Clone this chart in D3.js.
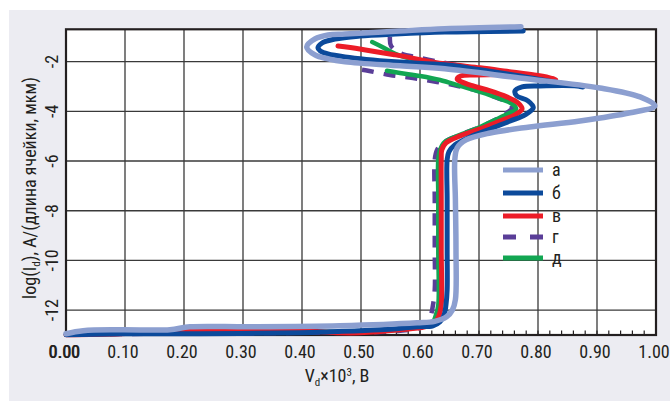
<!DOCTYPE html>
<html><head><meta charset="utf-8">
<script src="https://cdn.jsdelivr.net/npm/d3@7"></script>
<style>
body{margin:0;background:#fff;}
svg text{font-family:"Liberation Sans Narrow","Arial Narrow","Roboto Condensed",sans-serif;fill:#231f20;}
</style></head><body>
<svg id="c" width="670" height="401"></svg>
<script>
// ---- data ----
const xTickValues = [0,0.1,0.2,0.3,0.4,0.5,0.6,0.7,0.8,0.9,1.0];
const xTickLabels = ["0.00","0.10","0.20","0.30","0.40","0.50","0.60","0.70","0.80","0.90","1.00"];
const yTickValues = [-2,-4,-6,-8,-10,-12];
const yTickLabels = ["-2","-4","-6","-8","-10","-12"];
const seriesNames = ["а","б","в","г","д"];
const seriesColors = ["#8c9fd0","#0c4a9b","#ec1c27","#5a3e98","#12a652"];

// [V (x10^3 B), log(Id)] ; null = break
const seriesA = [[0,-12.95],[0.029,-12.83],[0.092,-12.79],[0.176,-12.79],[0.21,-12.67],[0.312,-12.67],[0.464,-12.63],[0.595,-12.51],[0.625,-12.45],[0.645,-12.27],[0.655,-11.99],[0.66,-11.58],[0.661,-9.57],[0.66,-7.56],[0.659,-5.95],[0.663,-5.47],[0.678,-5.15],[0.719,-4.87],[0.786,-4.63],[0.871,-4.39],[0.956,-4.06],[0.998,-3.78],[0.973,-3.42],[0.905,-3.06],[0.769,-2.66],[0.642,-2.29],[0.566,-2.17],[0.473,-2.01],[0.444,-1.89],[0.422,-1.73],[0.408,-1.41],[0.422,-1.09],[0.444,-0.93],[0.473,-0.89],[0.566,-0.77],[0.642,-0.68],[0.771,-0.60]];
const seriesB = [[0,-12.99],[0.092,-12.95],[0.227,-12.95],[0.397,-12.91],[0.447,-12.87],[0.532,-12.79],[0.595,-12.67],[0.622,-12.63],[0.634,-12.47],[0.641,-12.19],[0.644,-11.79],[0.646,-11.18],[0.646,-9.57],[0.646,-7.56],[0.646,-5.95],[0.649,-5.63],[0.659,-5.35],[0.685,-5.03],[0.719,-4.71],[0.753,-4.39],[0.778,-4.14],[0.792,-3.86],[0.783,-3.58],[0.764,-3.38],[0.761,-3.18],[0.773,-3.02],[0.803,-2.98],[0.866,-2.98],[0.876,-3.02],[0.837,-2.86],[0.769,-2.58],[0.702,-2.33],[0.642,-2.13],[0.558,-2.01],[0.473,-1.81],[0.444,-1.69],[0.431,-1.57],[0.427,-1.45],[0.434,-1.25],[0.456,-1.09],[0.498,-0.97],[0.558,-0.89],[0.642,-0.81],[0.775,-0.77]];
const seriesV = [[0,-12.99],[0.092,-12.95],[0.21,-12.83],[0.397,-12.83],[0.464,-12.91],[0.498,-12.91],[0.566,-12.79],[0.608,-12.67],[0.625,-12.51],[0.632,-12.23],[0.636,-11.79],[0.636,-9.57],[0.636,-7.56],[0.636,-5.95],[0.637,-5.55],[0.644,-5.27],[0.668,-4.99],[0.702,-4.71],[0.736,-4.39],[0.761,-4.14],[0.773,-3.90],[0.766,-3.66],[0.747,-3.42],[0.719,-3.18],[0.69,-2.98],[0.671,-2.82],[0.663,-2.70],[0.669,-2.58],[0.693,-2.54],[0.747,-2.52],[0.81,-2.64],[0.83,-2.70],[0.80,-2.56],[0.747,-2.39],[0.702,-2.25],[0.642,-2.09],[0.558,-1.73],[0.498,-1.49],[0.461,-1.37]];
const seriesG = [[0,-12.99],[0.142,-12.95],[0.397,-12.91],[0.566,-12.83],[0.608,-12.63],[0.617,-12.31],[0.622,-11.79],[0.625,-11.18],[0.625,-9.57],[0.625,-7.56],[0.625,-5.95],[0.629,-5.55],[0.639,-5.27],[0.668,-4.95],[0.702,-4.63],[0.727,-4.35],[0.744,-4.10],[0.756,-3.86],[0.749,-3.66],[0.731,-3.46],[0.698,-3.18],[0.664,-2.98],[0.629,-2.82],[0.588,-2.66],[0.549,-2.54],[0.512,-2.37],[0.49,-2.29],null,[0.549,-1.01],[0.551,-1.37],[0.566,-1.65],[0.60,-1.85],[0.651,-2.09],[0.719,-2.37]];
const seriesD = [[0,-12.99],[0.092,-12.95],[0.21,-12.87],[0.397,-12.87],[0.498,-12.87],[0.566,-12.79],[0.608,-12.63],[0.622,-12.47],[0.627,-12.19],[0.631,-11.79],[0.631,-9.57],[0.631,-7.56],[0.631,-5.95],[0.634,-5.55],[0.642,-5.23],[0.668,-4.95],[0.702,-4.63],[0.727,-4.35],[0.749,-4.10],[0.763,-3.90],[0.756,-3.70],[0.736,-3.50],[0.702,-3.22],[0.668,-2.98],[0.634,-2.74],[0.60,-2.58],[0.566,-2.46],[0.544,-2.37],null,[0.519,-1.21],[0.536,-1.41],[0.558,-1.69],[0.586,-1.89],[0.642,-2.13],[0.736,-2.45]];

// ---- drawing ----
const svg = d3.select("#c");
const W = 670, H = 401;
const L = 66, R = 656, T = 29.3, B = 335;
const x = d3.scaleLinear().domain([0,1]).range([L,R]);
const y = d3.scaleLinear().domain([-13,-0.7]).range([B,T]);

svg.append("rect").attr("width",W).attr("height",H).attr("fill","#fff");
svg.append("rect").attr("x",9).attr("y",10).attr("width",W-9).attr("height",H-10).attr("fill","#ececf2");
svg.append("rect").attr("x",L).attr("y",T).attr("width",R-L).attr("height",B-T).attr("fill","#fff");

// grid
const grid = svg.append("g").attr("stroke","#3a3a3a").attr("stroke-width",1.3);
grid.selectAll("line.v").data(xTickValues.slice(1,-1)).join("line")
  .attr("x1",d=>x(d)).attr("x2",d=>x(d)).attr("y1",T).attr("y2",B);
grid.selectAll("line.h").data(yTickValues).join("line")
  .attr("y1",d=>y(d)).attr("y2",d=>y(d)).attr("x1",L).attr("x2",R);

// bottom minor ticks
svg.append("g").attr("stroke","#231f20").attr("stroke-width",1.2)
  .selectAll("line").data(d3.range(0,1.0001,0.02)).join("line")
  .attr("x1",d=>x(d)).attr("x2",d=>x(d)).attr("y1",B).attr("y2",B-4.5);

// frame
svg.append("rect").attr("x",L).attr("y",T).attr("width",R-L).attr("height",B-T)
  .attr("fill","none").attr("stroke","#231f20").attr("stroke-width",2.2);

// x tick labels
svg.append("g").selectAll("text").data(xTickValues).join("text")
  .attr("x",d=>x(d)-2).attr("y",358).attr("text-anchor","middle")
  .attr("font-size",18).text((d,i)=>xTickLabels[i]);
svg.append("text").attr("x",x(0)-1.2).attr("y",358).attr("text-anchor","middle")
  .attr("font-size",18).text(xTickLabels[0]);

// y tick labels
svg.append("g").selectAll("text").data(yTickValues).join("text")
  .attr("transform",d=>`translate(58,${y(d)}) rotate(-90)`).attr("text-anchor","middle")
  .attr("font-size",18).text((d,i)=>yTickLabels[i]);

// axis titles
const xt = svg.append("text").attr("x",337).attr("y",382).attr("text-anchor","middle").attr("font-size",18);
xt.append("tspan").text("V");
xt.append("tspan").attr("font-size",11).attr("dy",4).text("d");
xt.append("tspan").attr("dy",-4).text("×10");
xt.append("tspan").attr("font-size",11).attr("dy",-6).text("3");
xt.append("tspan").attr("dy",6).text(", В");

const yt = svg.append("text").attr("transform","translate(36,188) rotate(-90)").attr("text-anchor","middle").attr("font-size",18);
yt.append("tspan").text("log(I");
yt.append("tspan").attr("font-size",11).attr("dy",4).text("d");
yt.append("tspan").attr("dy",-4).text("),  A/(длина ячейки, мкм)");

// curves
const line = d3.line().defined(d=>d!==null).x(d=>x(d[0])).y(d=>y(d[1])).curve(d3.curveCatmullRom.alpha(0.5));
const series = [
  {data:seriesG, i:3, w:4.5, dash:"12,10"},
  {data:seriesD, i:4, w:4.5},
  {data:seriesV, i:2, w:5},
  {data:seriesB, i:1, w:5},
  {data:seriesA, i:0, w:5.5}
];
series.forEach(s=>{
  svg.append("path").attr("d",line(s.data)).attr("fill","none")
    .attr("stroke",seriesColors[s.i]).attr("stroke-width",s.w)
    .attr("stroke-linejoin","round").attr("stroke-linecap", s.dash?"butt":"round")
    .attr("stroke-dasharray", s.dash||null);
});

// legend
const legY = [170,193,216,237,258];
const lg = svg.append("g");
seriesNames.forEach((n,i)=>{
  lg.append("line").attr("x1",503).attr("x2",543).attr("y1",legY[i]).attr("y2",legY[i])
    .attr("stroke",seriesColors[i]).attr("stroke-width",5)
    .attr("stroke-dasharray", i===3 ? "13,14" : null);
  lg.append("text").attr("x",552).attr("y",legY[i]+6).attr("font-size",18).text(n);
});
</script>
</body></html>
